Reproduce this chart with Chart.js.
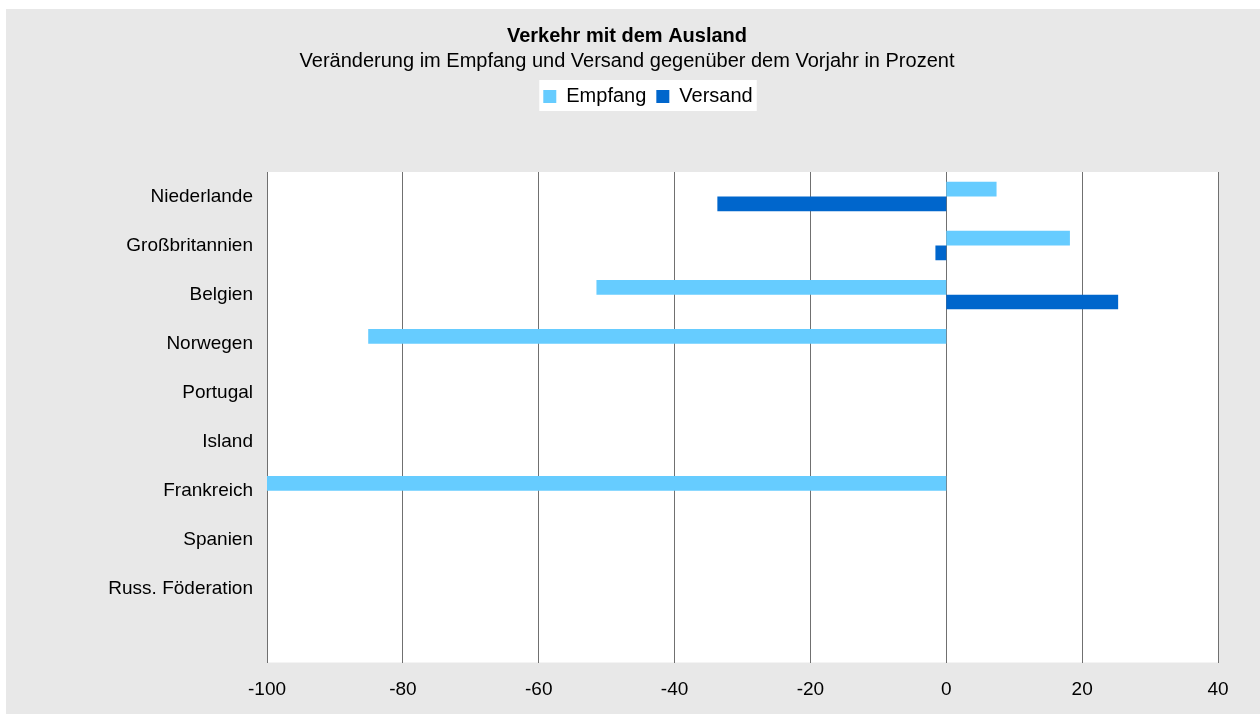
<!DOCTYPE html>
<html lang="de">
<head>
<meta charset="utf-8">
<title>Verkehr mit dem Ausland</title>
<script src="https://cdn.jsdelivr.net/npm/chart.js@4.4.1/dist/chart.umd.min.js"></script>
<style>
  html, body { margin: 0; padding: 0; background: #ffffff; }
  canvas { display: block; }
</style>
</head>
<body>
<canvas id="chart" width="1260" height="717"></canvas>
<script>
// Länder (letzter Platz bleibt leer)
const categories = [
  'Niederlande', 'Großbritannien', 'Belgien', 'Norwegen', 'Portugal',
  'Island', 'Frankreich', 'Spanien', 'Russ. Föderation', ''
];
// Veränderung gegenüber dem Vorjahr in Prozent
const empfang = [7.4, 18.2, -51.5, -85.1, null, null, -100, null, null, null];
const versand = [-33.7, -1.6, 25.3, null, null, null, null, null, null, null];
// Achsenbeschriftung
const xTicks = [-100, -80, -60, -40, -20, 0, 20, 40];

const FONT = "'Liberation Sans', Arial, Helvetica, sans-serif";
const GRID = '#707070';
const LEGEND_FONT = 20;
const LEGEND_PAD = 10;

// Hintergrund: grauer Rahmen, weiße Zeichenfläche, weißes Legendenfeld
const backdrop = {
  id: 'backdrop',
  afterLayout(chart) {
    const lg = chart.legend;
    lg.left += 21;
    lg.right += 21;
    lg.adjustHitBoxes();
  },
  beforeDraw(chart) {
    const { ctx, chartArea: a } = chart;
    ctx.save();
    ctx.fillStyle = '#ffffff';
    ctx.fillRect(0, 0, chart.width, chart.height);
    ctx.fillStyle = '#e8e8e8';
    ctx.fillRect(6, 9, chart.width - 6, 705);
    ctx.fillStyle = '#ffffff';
    ctx.fillRect(a.left, a.top, a.right - a.left, a.bottom - a.top);
    // Legendenfeld um die Einträge
    const lg = chart.legend;
    const hb = lg.legendHitBoxes || [];
    if (hb.length) {
      const l = Math.min(...hb.map(h => h.left));
      const r = Math.max(...hb.map(h => h.left + h.width));
      const cy = lg.top + LEGEND_PAD + LEGEND_FONT / 2;
      ctx.fillRect(l - 4, cy - 16.5, r - l + 8, 31);
    }
    ctx.restore();
  }
};

new Chart(document.getElementById('chart'), {
  type: 'bar',
  data: {
    labels: categories,
    datasets: [
      { label: 'Empfang', data: empfang, backgroundColor: '#66ccff' },
      { label: 'Versand', data: versand, backgroundColor: '#0066cc' }
    ]
  },
  options: {
    indexAxis: 'y',
    responsive: false,
    animation: false,
    devicePixelRatio: 1,
    datasets: { bar: { categoryPercentage: 0.6, barPercentage: 1.0, borderWidth: 0 } },
    layout: { padding: { left: 36, right: 42, top: 0, bottom: 0 } },
    plugins: {
      title: {
        display: true,
        text: 'Verkehr mit dem Ausland',
        color: '#000000',
        font: { family: FONT, size: 20, weight: 'bold', lineHeight: 1.2 },
        padding: { top: 24.5, bottom: 0 }
      },
      subtitle: {
        display: true,
        text: 'Veränderung im Empfang und Versand gegenüber dem Vorjahr in Prozent',
        color: '#000000',
        font: { family: FONT, size: 20, lineHeight: 1.2 },
        padding: { top: 0.5, bottom: 3.5 }
      },
      legend: {
        display: true,
        position: 'top',
        labels: {
          color: '#000000',
          font: { family: FONT, size: LEGEND_FONT },
          boxWidth: 13,
          boxHeight: 13,
          padding: LEGEND_PAD
        }
      },
      tooltip: { enabled: false }
    },
    scales: {
      spacer: {
        type: 'linear',
        position: 'top',
        display: true,
        ticks: { display: false },
        grid: { display: false },
        border: { display: false },
        afterFit(s) { s.height = 55.5; }
      },
      x: {
        type: 'linear',
        position: 'bottom',
        min: xTicks[0],
        max: xTicks[xTicks.length - 1],
        afterBuildTicks(s) { s.ticks = xTicks.map(v => ({ value: v })); },
        ticks: {
          color: '#000000',
          font: { family: FONT, size: 19 },
          padding: 16,
          maxRotation: 0
        },
        grid: { display: true, color: GRID, lineWidth: 1, drawTicks: false },
        border: { display: false },
        afterFit(s) { s.height = 54.5; }
      },
      y: {
        type: 'category',
        position: 'left',
        ticks: {
          color: '#000000',
          font: { family: FONT, size: 19 },
          padding: 14,
          autoSkip: false
        },
        grid: { display: false, drawTicks: false },
        border: { display: true, color: GRID, width: 1 },
        afterFit(s) { s.width = 231; }
      }
    }
  },
  plugins: [backdrop]
});
</script>
</body>
</html>
